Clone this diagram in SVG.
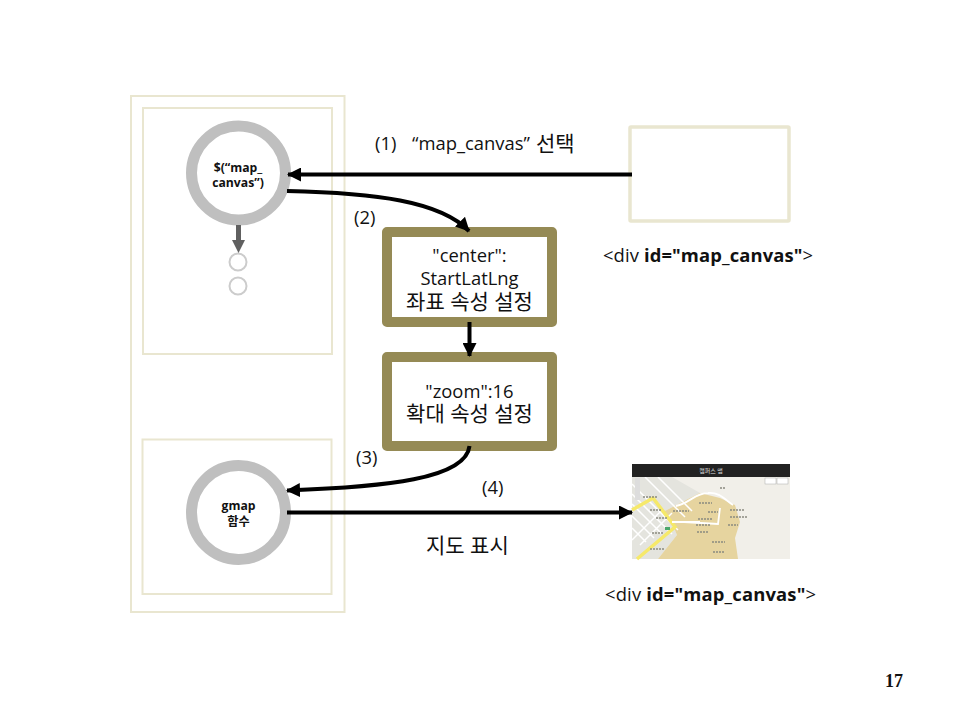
<svg xmlns="http://www.w3.org/2000/svg" width="960" height="720" viewBox="0 0 960 720">
<style>
text{font-family:"Open Sans","Noto Sans CJK KR",sans-serif;fill:#111}
.t{font-size:18.400px}
.k{font-size:21px}
.m{text-anchor:middle}
.b{font-weight:700}
.sm{font-size:12.200px;font-weight:700;text-anchor:middle}
.panel{fill:#fff;stroke:#e9e6d0;stroke-width:2}
.ring{fill:#fff;stroke:#bfbfbf;stroke-width:11}
.dot{fill:#fff;stroke:#cccccc;stroke-width:2}
.box{fill:#fff;stroke:#958a55;stroke-width:10;stroke-linejoin:round}
.c{fill:none;stroke:#000;stroke-width:4;marker-end:url(#h)}
.st{fill:none;stroke:#fff;stroke-width:1.500}
.lb{fill:none;stroke:#8a8a80;stroke-width:1.300;stroke-dasharray:2 1}
</style>
<defs>
<marker id="h" markerUnits="userSpaceOnUse" markerWidth="14" markerHeight="14" refX="13" refY="7" orient="auto"><path d="M0 0L14 7L0 14Z" fill="#000"/></marker>
</defs>
<rect width="960" height="720" fill="#fff"/>
<g id="outer-panel"><rect class="panel" x="131" y="96" width="213.500" height="516"/></g>
<g id="panel-top"><rect class="panel" x="143" y="108" width="189" height="246"/></g>
<g id="panel-bottom"><rect class="panel" x="142.500" y="439.500" width="189" height="154.500"/></g>
<g id="node-select"><circle class="ring" cx="238.500" cy="173" r="47"/>
<text class="sm" x="238" y="171.500">$(“map_</text><text class="sm" x="238" y="186.500">canvas”)</text></g>
<g id="dot-1"><circle class="dot" cx="238" cy="262" r="8.500"/></g>
<g id="dot-2"><circle class="dot" cx="238" cy="286" r="8.500"/></g>
<g id="node-gmap"><circle class="ring" cx="238.500" cy="512.500" r="47"/>
<text class="sm" x="238.500" y="510">gmap</text><text class="sm" x="238.500" y="526">함수</text></g>
<g id="box-center"><rect class="box" x="387" y="232" width="165" height="90"/>
<text class="t m" x="469.500" y="262">"center":</text><text class="t m" x="469.500" y="285">StartLatLng</text><text class="k m" x="469.500" y="309">좌표 속성 설정</text></g>
<g id="box-zoom"><rect class="box" x="387" y="357" width="165" height="89"/>
<text class="t m" x="469.500" y="398">"zoom":16</text><text class="k m" x="469.500" y="421">확대 속성 설정</text></g>
<g id="div-empty"><rect class="panel" x="630" y="127" width="159" height="94" rx="1" style="stroke-width:3.500"/></g>
<g id="map-result">
<rect x="632" y="477" width="158" height="82" fill="#f1efe9"/>
<path d="M632 477H672L700 493L663 512L670 518L677 535L658 559H632Z" fill="#e4e4de"/>
<path d="M663 512L690 498L700 493L720 498L735 505L740 522L735 538L738 559H658L677 535L670 518Z" fill="#e6d49f"/>
<path class="st" d="M632 484L678 530M632 494L672 534M632 504L662 534M632 516L654 538M632 528L646 542M645 477L685 517M658 477L692 511M632 540L660 512M640 545L672 513"/>
<path d="M632 510L653 498L675 527L637 559" fill="none" stroke="#f6e96a" stroke-width="3.500"/>
<path d="M672 522H700M676 506C690 503 695 493 708 493C720 492 725 500 733 505M684 522L718 524L720 508" fill="none" stroke="#fff" stroke-width="1.800"/>
<path class="lb" d="M643 497H658M650 510H662M656 518H668M673 511H689M699 503H712M698 519H712M696 525H710M708 512H718M730 510H744M730 517H748M728 525H738M697 532H708M712 542H725M713 552H725M650 549H664M720 488H726M652 533H663"/>
<rect x="665" y="527" width="5" height="3" fill="#4ca86c"/>
<rect x="632" y="464" width="158" height="13" fill="#222"/>
<text x="711" y="473" text-anchor="middle" style="font-size:6px;fill:#ddd">캠퍼스 맵</text>
<rect x="765" y="478" width="11" height="6" fill="#fff" stroke="#aaa" stroke-width=".5"/>
<rect x="777" y="478" width="11" height="6" fill="#fff" stroke="#aaa" stroke-width=".5"/>
<rect x="635" y="478" width="5" height="22" fill="#ddd"/>
</g>
<g id="connectors">
<path class="c" d="M632 174.500H288"/>
<path class="c" d="M287 191C375 193 440 201 469 231"/>
<path class="c" d="M469.500 322V356"/>
<path class="c" d="M469.500 446C466 479 385 487 287 490.500"/>
<path class="c" d="M287 512.500H632"/>
<path d="M238.500 225V241" stroke="#606060" stroke-width="5" fill="none"/>
<path d="M232 240H245L238.500 253Z" fill="#606060"/>
</g>
<g id="labels">
<text class="t" x="375" y="150">(1)</text>
<text class="t" x="412" y="150">“map_canvas”<tspan class="k" x="536" y="151">선택</tspan></text>
<text class="t" x="354" y="224">(2)</text>
<text class="t" x="356" y="464">(3)</text>
<text class="t" x="482" y="494">(4)</text>
<text class="k" x="426" y="553">지도 표시</text>
<text class="t" x="603" y="262" textLength="210">&lt;div <tspan class="b">id="map_canvas"</tspan>&gt;</text>
<text class="t" x="605" y="601" textLength="211">&lt;div <tspan class="b">id="map_canvas"</tspan>&gt;</text>
<text x="894" y="687" text-anchor="middle" style="font-family:'Liberation Serif',serif;font-size:18px;font-weight:700">17</text>
</g>
</svg>
